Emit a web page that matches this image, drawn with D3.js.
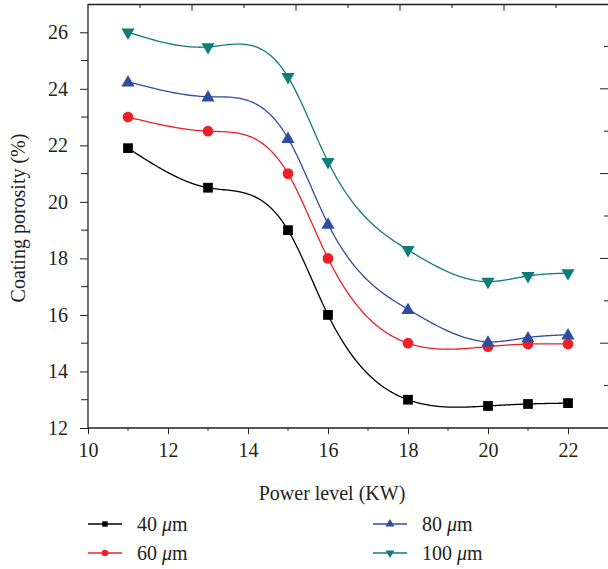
<!DOCTYPE html>
<html><head><meta charset="utf-8">
<script src="https://cdn.jsdelivr.net/npm/d3@7"></script>
<style>body{margin:0;background:#fff}svg{display:block}text{font-family:"Liberation Serif","DejaVu Serif",serif;fill:#231f20}</style>
</head><body><svg id="c" width="608" height="569"></svg>
<script>
const powers = [11, 13, 15, 16, 18, 20, 21, 22];
const s40 = [21.9, 20.5, 19.0, 16.0, 13.0, 12.78, 12.85, 12.88];
const s60 = [23.0, 22.5, 21.0, 18.0, 15.0, 14.88, 14.97, 14.97];
const s80 = [24.25, 23.72, 22.25, 19.22, 16.2, 15.05, 15.2, 15.3];
const s100 = [26.0, 25.48, 24.42, 21.42, 18.3, 17.18, 17.38, 17.48];
const seriesNames = ["40", "60", "80", "100"];
const xTicks = [10, 12, 14, 16, 18, 20, 22];
const yTicks = [12, 14, 16, 18, 20, 22, 24, 26];

const series = [
  {name: seriesNames[0], vals: s40, color: "#000000", sym: d3.symbolSquare},
  {name: seriesNames[1], vals: s60, color: "#ee2027", sym: d3.symbolCircle},
  {name: seriesNames[2], vals: s80, color: "#2e4ca0", sym: "up"},
  {name: seriesNames[3], vals: s100, color: "#0f7d79", sym: "down"}
];

const svg = d3.select("#c");
const L = 88, R = 608, T = 4, B = 428;
const x = d3.scaleLinear().domain([10, 23]).range([L, R]);
const y = d3.scaleLinear().domain([12, 27]).range([B, T]);
const FS = 20;

const ax = "#231f20";
svg.append("line").attr("x1", L).attr("x2", R).attr("y1", T + 0.5).attr("y2", T + 0.5).attr("stroke", ax).attr("stroke-width", 1.3);

const xa = svg.append("g").attr("transform", `translate(0,${B})`)
  .call(d3.axisBottom(x).tickValues(xTicks).tickSize(6).tickPadding(9).tickFormat(d3.format("d")));
xa.append("g").selectAll("line").data(d3.range(11, 23, 2)).join("line")
  .attr("x1", d => x(d)).attr("x2", d => x(d)).attr("y1", 0).attr("y2", 3).attr("stroke", ax);
const ya = svg.append("g").attr("transform", `translate(${L},0)`)
  .call(d3.axisLeft(y).tickValues(yTicks).tickSize(8).tickPadding(12).tickFormat(d3.format("d")));
ya.append("g").selectAll("line").data(d3.range(13, 27, 2)).join("line")
  .attr("y1", d => y(d)).attr("y2", d => y(d)).attr("x1", 0).attr("x2", -7).attr("stroke", ax);
[xa, ya].forEach(g => {
  g.select(".domain").attr("stroke", ax).attr("stroke-width", 1.3);
  g.selectAll(".tick line").attr("stroke", ax);
  g.selectAll("text").attr("font-size", FS).attr("fill", ax).style("font-family", '"Liberation Serif",serif');
});
xa.select(".domain").attr("d", `M${L},0H${R}`);
ya.select(".domain").attr("d", `M0,${T}V${B}`);

const xt = d3.scaleLinear().domain([0, 10]).range([L, R]);
const yr = d3.scaleLinear().domain([0, 10]).range([T, B]);
svg.append("g").selectAll("line").data(d3.range(1, 10)).join("line")
  .attr("x1", d => xt(d)).attr("x2", d => xt(d)).attr("y1", T).attr("y2", d => T + (d % 2 ? 4 : 7)).attr("stroke", ax);
svg.append("g").selectAll("line").data(d3.range(1, 10)).join("line")
  .attr("y1", d => yr(d)).attr("y2", d => yr(d)).attr("x1", R).attr("x2", d => R - (d % 2 ? 4 : 8)).attr("stroke", ax);

svg.append("text").attr("x", 332).attr("y", 500).attr("text-anchor", "middle").attr("font-size", FS).text("Power level (KW)");
svg.append("text").attr("transform", "translate(25,218) rotate(-90)").attr("text-anchor", "middle").attr("font-size", FS).text("Coating porosity (%)");

// natural cubic spline y(x) through the data points
function spline(xs, ys) {
  const n = xs.length, h = [], a = [], l = [1], mu = [0], z = [0], c = new Array(n).fill(0), b = [], dd = [];
  for (let i = 0; i < n - 1; i++) h[i] = xs[i + 1] - xs[i];
  for (let i = 1; i < n - 1; i++) a[i] = 3 / h[i] * (ys[i + 1] - ys[i]) - 3 / h[i - 1] * (ys[i] - ys[i - 1]);
  for (let i = 1; i < n - 1; i++) {
    l[i] = 2 * (xs[i + 1] - xs[i - 1]) - h[i - 1] * mu[i - 1];
    mu[i] = h[i] / l[i];
    z[i] = (a[i] - h[i - 1] * z[i - 1]) / l[i];
  }
  for (let j = n - 2; j >= 0; j--) {
    c[j] = (j === 0 ? 0 : z[j]) - mu[j] * c[j + 1];
    if (j === 0) c[0] = 0;
    b[j] = (ys[j + 1] - ys[j]) / h[j] - h[j] * (c[j + 1] + 2 * c[j]) / 3;
    dd[j] = (c[j + 1] - c[j]) / (3 * h[j]);
  }
  const out = [];
  for (let j = 0; j < n - 1; j++) {
    const steps = 40;
    for (let k = 0; k < steps; k++) {
      const t = h[j] * k / steps;
      out.push([xs[j] + t, ys[j] + b[j] * t + c[j] * t * t + dd[j] * t * t * t]);
    }
  }
  out.push([xs[n - 1], ys[n - 1]]);
  return out;
}

function sym(type, size) {
  if (type === "up" || type === "down") return d3.symbol(d3.symbolTriangle, size)();
  return d3.symbol(type, size)();
}
function symSize(type, big) {
  if (type === d3.symbolSquare) return big ? 95 : 30;
  if (type === d3.symbolCircle) return big ? 90 : 34;
  return big ? 76 : 34;
}

const line = d3.line().x(d => x(d[0])).y(d => y(d[1]));
series.forEach(s => {
  svg.append("path").attr("d", line(spline(powers, s.vals))).attr("fill", "none").attr("stroke", s.color).attr("stroke-width", 1.3);
  svg.append("g").selectAll("path").data(s.vals).join("path")
    .attr("d", sym(s.sym, symSize(s.sym, true)))
    .attr("transform", (d, i) => `translate(${x(powers[i])},${y(d)})${s.sym === "down" ? " rotate(180)" : ""}${s.sym === "up" ? " translate(0,1)" : ""}`)
    .attr("fill", s.color);
});

const legPos = [[88, 524], [88, 553], [373, 524], [373, 553]];
series.forEach((s, i) => {
  const [lx, ly] = legPos[i];
  const g = svg.append("g").attr("transform", `translate(${lx},${ly})`);
  g.append("line").attr("x1", 0).attr("x2", 34).attr("y1", 0).attr("y2", 0).attr("stroke", s.color).attr("stroke-width", 1.5);
  g.append("path").attr("d", sym(s.sym, symSize(s.sym, false)))
    .attr("transform", `translate(17,0)${s.sym === "down" ? " rotate(180)" : ""}`).attr("fill", s.color);
  const t = g.append("text").attr("x", 49).attr("y", 7).attr("font-size", FS);
  t.append("tspan").text(s.name + " ");
  t.append("tspan").attr("font-style", "italic").text("\u03bc");
  t.append("tspan").text("m");
});
</script></body></html>
